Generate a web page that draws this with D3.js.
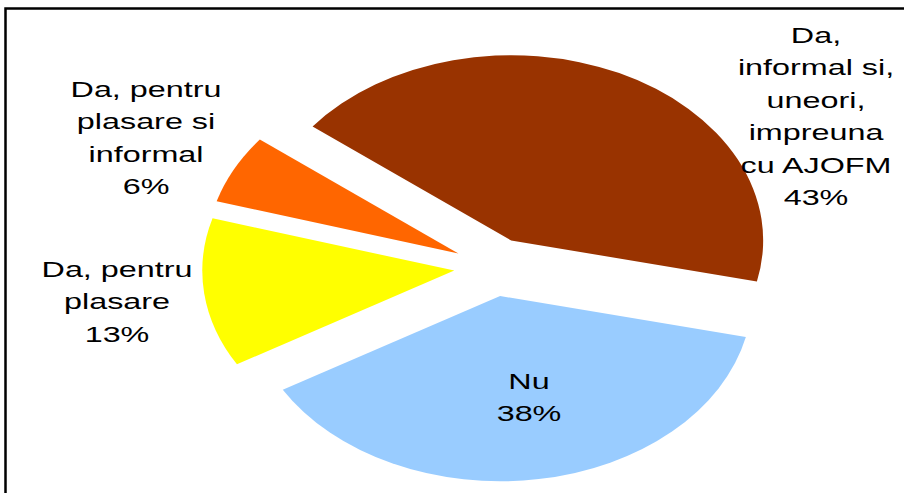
<!DOCTYPE html>
<html>
<head>
<meta charset="utf-8">
<script src="https://cdn.jsdelivr.net/npm/d3@7"></script>
<style>
  body { margin: 0; background: #fff; }
  svg { display: block; }
</style>
</head>
<body>
<svg id="chart"></svg>
<script>
// data
var categories = ["Da, informal si, uneori, impreuna cu AJOFM", "Nu", "Da, pentru plasare", "Da, pentru plasare si informal"];
var values = [43, 38, 13, 6];
var labelLines = [
  ["Da,", "informal si,", "uneori,", "impreuna", "cu AJOFM"],
  ["Nu"],
  ["Da, pentru", "plasare"],
  ["Da, pentru", "plasare si", "informal"]
];
var colors = ["#993300", "#99CCFF", "#FFFF00", "#FF6600"];

// layout (label anchors are where the first line's baseline sits)
var labelAnchor = [[816, 43], [529, 389], [117, 277], [146, 97]];

var width = 904, height = 493;
var cx = 494, cy = 267;
var radius = 252, squash = 0.735, explode = 40;
var lineStep = 32.5, fontSize = 22, stretch = 1.47;

var svg = d3.select("#chart")
    .attr("width", width)
    .attr("height", height);

// frame, cut off at right and bottom like the reference
svg.append("rect")
  .attr("x", 5.5)
  .attr("y", 8.5)
  .attr("width", 1200)
  .attr("height", 1200)
  .attr("fill", "none")
  .attr("stroke", "#000")
  .attr("stroke-width", 2.5);

var pie = d3.pie()
  .sort(null)
  .value(function(d) { return d; })
  .startAngle(-52 * Math.PI / 180)
  .endAngle(308 * Math.PI / 180);

var arc = d3.arc().innerRadius(0).outerRadius(radius);

var arcs = pie(values);

var g = svg.append("g")
  .attr("transform", "translate(" + cx + "," + cy + ") scale(1," + squash + ")");

g.selectAll("path")
  .data(arcs)
  .enter()
  .append("path")
  .attr("d", arc)
  .attr("fill", function(d, i) { return colors[i]; })
  .attr("transform", function(d) {
    var mid = (d.startAngle + d.endAngle) / 2;
    return "translate(" + (explode * Math.sin(mid)) + "," + (-explode * Math.cos(mid)) + ")";
  });

// labels
var fmt = function(d) { return Math.round(d) + "%"; };
arcs.forEach(function(d, i) {
  var lines = labelLines[i].concat([fmt(values[i])]);
  var t = svg.append("text")
    .attr("transform", "translate(" + labelAnchor[i][0] + "," + labelAnchor[i][1] + ") scale(" + stretch + ",1)")
    .attr("text-anchor", "middle")
    .attr("font-family", "'Liberation Sans', Arial, sans-serif")
    .attr("font-size", fontSize)
    .attr("fill", "#000");
  lines.forEach(function(s, k) {
    t.append("tspan")
      .attr("x", 0)
      .attr("y", k * lineStep)
      .text(s);
  });
});
</script>
</body>
</html>
